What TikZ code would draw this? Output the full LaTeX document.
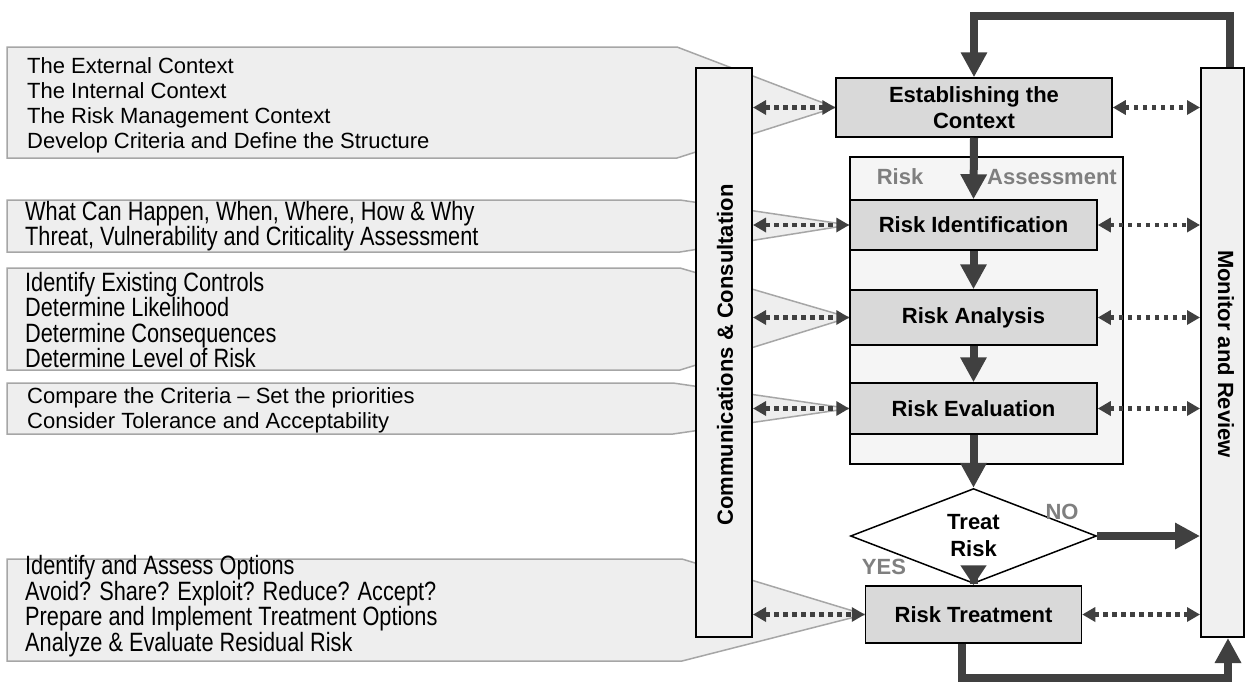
\documentclass[tikz,border=0pt]{standalone}
\usepackage{fontspec}
\setmainfont{Liberation Sans}
\newfontfamily\narrowfont[FakeStretch=0.82]{Liberation Sans}
\usetikzlibrary{arrows.meta,shapes.geometric}
\pgfdeclarelayer{background}
\pgfsetlayers{background,main}
\definecolor{arrowgray}{HTML}{404040}
\definecolor{labelgray}{HTML}{7F7F7F}
\definecolor{calloutfill}{HTML}{EEEEEE}
\definecolor{calloutline}{HTML}{A6A6A6}
\definecolor{boxfill}{HTML}{D9D9D9}
\definecolor{panelfill}{HTML}{F5F5F5}
\definecolor{sidefill}{HTML}{F0F0F0}
\tikzset{
  callout/.style={fill=calloutfill, draw=calloutline, line width=1.5pt, line join=miter},
  callouttext/.style={anchor=west, align=left, inner sep=0pt, font=\fontsize{22}{25}\selectfont},
  narrowtext/.style={anchor=west, align=left, inner sep=0pt, font=\narrowfont\fontsize{26.5}{25.5}\selectfont},
  procbox/.style={draw=black, fill=boxfill, line width=1.5pt, inner sep=0pt, align=center,
    font=\bfseries\fontsize{22}{26}\selectfont},
  sidebox/.style={draw=black, fill=sidefill, line width=2pt, inner sep=0pt},
  sidetext/.style={font=\bfseries\fontsize{22}{26}\selectfont, inner sep=0pt},
  graylabel/.style={text=labelgray, font=\bfseries\fontsize{22}{26}\selectfont, inner sep=0pt},
  bigarrow/.style={draw=arrowgray, line width=8pt, -{Triangle[length=25pt,width=25pt]}},
  dotarrow/.style={draw=arrowgray, line width=4.5pt, dash pattern=on 4.5pt off 4.5pt,
    {Triangle[length=13pt,width=14pt]}-{Triangle[length=13pt,width=14pt]}}
}
\begin{document}
\begin{tikzpicture}[x=1pt,y=-1pt]
\useasboundingbox (0,0) rectangle (1245,683);

% Risk assessment panel
\node[draw=black, fill=panelfill, line width=1.5pt, minimum width=273pt, minimum height=307pt, inner sep=0pt] (panel) at (986.5,310.5) {};
\node[graylabel] (risklbl) at (900,177) {Risk};
\node[graylabel] (assesslbl) at (1052,177) {Assessment};

% process boxes
\node[procbox, minimum width=276pt, minimum height=59pt] (est) at (974,107.5) {Establishing the\\Context};
\node[procbox, minimum width=247pt, minimum height=50pt] (rid) at (973.5,225) {Risk Identification};
\node[procbox, minimum width=247pt, minimum height=55pt] (ran) at (973.5,317.5) {Risk Analysis};
\node[procbox, minimum width=247pt, minimum height=51pt] (rev) at (973.5,408.5) {Risk Evaluation};
\node[draw=black, fill=white, line width=1.5pt, shape=diamond, minimum width=246pt, minimum height=62pt, inner sep=0pt, align=center,
  font=\bfseries\fontsize{22}{27}\selectfont] (dia) at (973.5,536) {Treat\\Risk};
\node[procbox, minimum width=216pt, minimum height=57pt] (rtr) at (973.5,614.5) {Risk Treatment};

% side columns
\node[sidebox, minimum width=56pt, minimum height=569pt] (comm) at (724,352.5) {};
\node[sidetext, rotate=90] (commtxt) at (725,355) {Communications \& Consultation};
\node[sidebox, minimum width=43pt, minimum height=569pt] (mon) at (1222.5,352.5) {};
\node[sidetext, rotate=-90] (montxt) at (1226,354) {Monitor and Review};

% white page and callouts (behind)
\begin{pgfonlayer}{background}
\fill[white] (0,0) rectangle (1245,683);
\draw[callout] (7,47) -- (677,47) -- (est.west) -- (677,158) -- (7,158) -- cycle;
\draw[callout] (7,200) -- (680,200) -- (rid.west) -- (680,252) -- (7,252) -- cycle;
\draw[callout] (7,268) -- (680,268) -- (ran.west) -- (680,370) -- (7,370) -- cycle;
\draw[callout] (7,383) -- (673,383) -- (rev.west) -- (673,434) -- (7,434) -- cycle;
\draw[callout] (7,559) -- (682,559) -- (rtr.west) -- (682,661) -- (7,661) -- cycle;
\end{pgfonlayer}

\node[callouttext] (c1) at (27,105) {The External Context\\The Internal Context\\The Risk Management Context\\Develop Criteria and Define the Structure};
\node[narrowtext] (c2) at (25,226) {What Can Happen, When, Where, How \& Why\\Threat, Vulnerability and Criticality Assessment};
\node[narrowtext] (c3) at (25,320) {Identify Existing Controls\\Determine Likelihood\\Determine Consequences\\Determine Level of Risk};
\node[callouttext] (c4) at (27,410) {Compare the Criteria -- Set the priorities\\Consider Tolerance and Acceptability};
\node[narrowtext] (c5) at (25,606) {Identify and Assess Options\\Avoid? Share? Exploit? Reduce? Accept?\\Prepare and Implement Treatment Options\\Analyze \& Evaluate Residual Risk};

% main flow arrows
\coordinate (topR) at (1230,16);
\coordinate (topL) at (974,16);
\draw[bigarrow] (mon.north -| topR) -- (topR) -- (topL) -- (est.north);
\draw[bigarrow] (est.south) -- (rid.north);
\draw[bigarrow] (rid.south) -- (ran.north);
\draw[bigarrow] (ran.south) -- (rev.north);
\draw[bigarrow] (rev.south) -- (dia.north);
\draw[draw=arrowgray, line width=8pt, -{Triangle[length=20pt,width=25pt]}] (dia.south) -- (rtr.north);
\draw[bigarrow] (dia.east) -- (dia.east -| mon.west);
\coordinate (botL) at (962,678);
\coordinate (botR) at (1228,678);
\draw[bigarrow] (rtr.south -| botL) -- (botL) -- (botR) -- (mon.south -| botR);

% dotted links to communications
\draw[dotarrow] (comm.east |- est.west) -- (est.west);
\draw[dotarrow] (comm.east |- rid.west) -- (rid.west);
\draw[dotarrow] (comm.east |- ran.west) -- (ran.west);
\draw[dotarrow] (comm.east |- rev.west) -- (rev.west);
\draw[dotarrow] (comm.east |- rtr.west) -- (rtr.west);
% dotted links to monitor
\draw[dotarrow] (est.east) -- (est.east -| mon.west);
\draw[dotarrow] (rid.east) -- (rid.east -| mon.west);
\draw[dotarrow] (ran.east) -- (ran.east -| mon.west);
\draw[dotarrow] (rev.east) -- (rev.east -| mon.west);
\draw[dotarrow] (rtr.east) -- (rtr.east -| mon.west);

\node[graylabel] (nolbl) at (1062,512) {NO};
\node[graylabel] (yeslbl) at (884,567) {YES};
\end{tikzpicture}
\end{document}
